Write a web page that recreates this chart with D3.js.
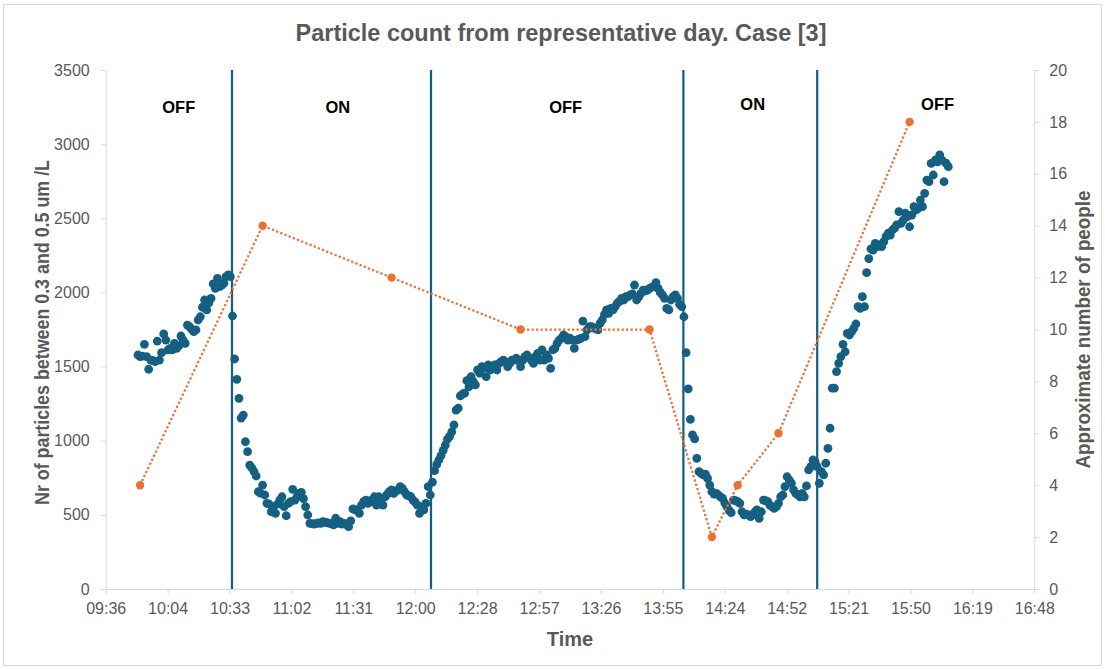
<!DOCTYPE html>
<html><head><meta charset="utf-8">
<script src="https://cdn.jsdelivr.net/npm/d3@7"></script>
<style>body{margin:0;background:#fff}svg{display:block}</style>
</head><body>
<svg id="chart" width="1105" height="669"></svg>
<script>
// ---------------- data ----------------
const xTickLabels = ["09:36","10:04","10:33","11:02","11:31","12:00","12:28","12:57","13:26","13:55","14:24","14:52","15:21","15:50","16:19","16:48"];
const leftTicks = [0,500,1000,1500,2000,2500,3000,3500];
const rightTicks = [0,2,4,6,8,10,12,14,16,18,20];

const particleTimes = [
"09:51","09:52","09:53","09:54","09:55","09:56","09:57","09:58","09:59",
"10:00","10:01","10:02","10:03","10:04","10:05","10:06","10:07","10:08","10:09",
"10:10","10:11","10:12","10:13","10:14","10:15","10:16","10:17","10:18","10:19",
"10:20","10:21","10:22","10:23","10:24","10:25","10:26","10:27","10:28","10:29",
"10:30","10:31","10:32","10:33","10:34","10:35","10:36","10:37","10:38","10:39",
"10:40","10:41","10:42","10:43","10:44","10:45","10:46","10:47","10:48","10:49",
"10:50","10:51","10:52","10:53","10:54","10:55","10:56","10:57","10:58","10:59",
"11:00","11:01","11:02","11:03","11:04","11:05","11:06","11:07","11:08","11:09",
"11:10","11:11","11:12","11:13","11:14","11:15","11:16","11:17","11:18","11:19",
"11:20","11:21","11:22","11:23","11:24","11:25","11:26","11:27","11:28","11:29",
"11:30","11:31","11:32","11:33","11:34","11:35","11:36","11:37","11:38","11:39",
"11:40","11:41","11:42","11:43","11:44","11:45","11:46","11:47","11:48","11:49",
"11:50","11:51","11:52","11:53","11:54","11:55","11:56","11:57","11:58","11:59",
"12:00","12:01","12:02","12:03","12:04","12:05","12:06","12:07","12:08","12:09",
"12:10","12:11","12:12","12:13","12:14","12:15","12:16","12:17","12:18","12:19",
"12:20","12:21","12:22","12:23","12:24","12:25","12:26","12:27","12:28","12:29",
"12:30","12:31","12:32","12:33","12:34","12:35","12:36","12:37","12:38","12:39",
"12:40","12:41","12:42","12:43","12:44","12:45","12:46","12:47","12:48","12:49",
"12:50","12:51","12:52","12:53","12:54","12:55","12:56","12:57","12:58","12:59",
"13:00","13:01","13:02","13:03","13:04","13:05","13:06","13:07","13:08","13:09",
"13:10","13:11","13:12","13:13","13:14","13:15","13:16","13:17","13:18","13:19",
"13:20","13:21","13:22","13:23","13:24","13:25","13:26","13:27","13:28","13:29",
"13:30","13:31","13:32","13:33","13:34","13:35","13:36","13:37","13:38","13:39",
"13:40","13:41","13:42","13:43","13:44","13:45","13:46","13:47","13:48","13:49",
"13:50","13:51","13:52","13:53","13:54","13:55","13:56","13:57","13:58","13:59",
"14:00","14:01","14:02","14:03","14:04","14:05","14:06","14:07","14:08","14:09",
"14:10","14:11","14:12","14:13","14:14","14:15","14:16","14:17","14:18","14:19",
"14:20","14:21","14:22","14:23","14:24","14:25","14:26","14:27","14:28","14:29",
"14:30","14:31","14:32","14:33","14:34","14:35","14:36","14:37","14:38","14:39",
"14:40","14:41","14:42","14:43","14:44","14:45","14:46","14:47","14:48","14:49",
"14:50","14:51","14:52","14:53","14:54","14:55","14:56","14:57","14:58","14:59",
"15:00","15:01","15:02","15:03","15:04","15:05","15:06","15:07","15:08","15:09",
"15:10","15:11","15:12","15:13","15:14","15:15","15:16","15:17","15:18","15:19",
"15:20","15:21","15:22","15:23","15:24","15:25","15:26","15:27","15:28","15:29",
"15:30","15:31","15:32","15:33","15:34","15:35","15:36","15:37","15:38","15:39",
"15:40","15:41","15:42","15:43","15:44","15:45","15:46","15:47","15:48","15:49",
"15:50","15:51","15:52","15:53","15:54","15:55","15:56","15:57","15:58","15:59",
"16:00","16:01","16:02","16:03","16:04","16:05","16:06","16:07","16:08"
];
const particleCounts = [
1578,1567,1571,1650,1567,1482,1544,1540,1533,
1672,1544,1594,1720,1679,1612,1623,1612,1657,1623,
1640,1706,1679,1657,1780,1769,1750,1735,1747,1814,
1836,1900,1949,1882,1930,1960,2057,2028,2095,2039,
2050,2062,2106,2118,2106,1841,1551,1414,1286,1153,
1173,993,926,836,816,791,762,656,647,701,
634,578,573,521,555,510,573,600,622,555,
494,578,589,672,600,622,645,652,610,555,
499,443,440,438,443,445,443,454,450,447,
443,440,432,477,443,454,438,443,435,420,
460,540,533,533,510,566,589,600,578,595,
589,622,566,622,611,566,622,640,656,668,
645,660,668,690,679,656,634,628,622,600,
585,566,510,555,533,578,690,634,720,798,
840,870,900,935,971,1010,1030,1060,1106,1207,
1219,1302,1315,1320,1405,1364,1432,1398,1376,1477,
1455,1499,1490,1432,1511,1477,1499,1511,1477,1522,
1533,1544,1530,1499,1522,1544,1544,1556,1540,1499,
1544,1567,1578,1560,1544,1522,1567,1589,1544,1612,
1544,1578,1556,1488,1612,1623,1657,1679,1691,1713,
1702,1679,1691,1679,1623,1679,1684,1690,1807,1702,
1747,1769,1769,1760,1758,1747,1792,1814,1850,1882,
1859,1893,1882,1904,1927,1940,1960,1949,1971,1971,
1983,1990,2050,1949,1970,1994,2016,2010,2016,2028,
2035,2039,2066,2028,2000,1983,1960,1893,1882,1949,
1971,1983,1960,1920,1904,1836,1594,1349,1144,1039,
1012,881,791,780,769,775,746,701,656,640,
645,634,622,611,580,555,530,515,600,595,
589,578,521,499,505,499,488,499,521,533,
477,521,600,595,589,566,555,544,555,578,
622,634,690,757,735,713,668,645,634,622,
645,622,695,803,825,870,859,825,713,791,
769,848,949,1084,1354,1354,1466,1522,1567,1650,
1600,1724,1713,1735,1758,1787,1904,1893,1971,1904,
2133,2228,2293,2286,2331,2309,2320,2309,2342,2376,
2399,2387,2421,2433,2455,2545,2466,2488,2534,2511,
2443,2522,2578,2556,2567,2623,2578,2668,2758,2747,
2870,2792,2893,2880,2927,2893,2747,2871,2848
];

const peopleTimes = ["09:52","10:49","11:49","12:49","13:49","14:18","14:30","14:49","15:50"];
const peopleCounts = [4,14,12,10,10,2,4,6,18];

const switchTimes = ["10:34:45","12:07:20","14:04:45","15:07:00"];
const phaseLabels = ["OFF","ON","OFF","ON","OFF"];
const phaseLabelTimes = ["10:10","11:24","13:10","14:37","16:03"];
const phaseLabelLevels = [3253,3253,3253,3271,3272];

const titleText = "Particle count from representative day. Case [3]";
const xTitle = "Time";
const yLeftTitle = "Nr of particles between 0.3 and 0.5 um /L";
const yRightTitle = "Approximate number of people";

// ---------------- chart ----------------
const W = 1105, H = 669;
const M = {left: 105.7, right: 70.7, top: 70, bottom: 80};
const toMin = s => { const p = s.split(":").map(Number); return p[0]*60 + p[1] + (p[2]||0)/60; };

const t0 = toMin(xTickLabels[0]), t1 = toMin(xTickLabels[xTickLabels.length-1]);
const x = d3.scaleLinear().domain([t0, t1]).range([M.left, W - M.right]);
const yL = d3.scaleLinear().domain([0, 3500]).range([H - M.bottom, M.top]);
const yR = d3.scaleLinear().domain([0, 20]).range([H - M.bottom, M.top]);

const BLUE = "#156082", ORANGE = "#E97132", AXIS = "#D9D9D9", TXT = "#595959";
const narrow = "'Liberation Sans Narrow','Liberation Sans',Arial,sans-serif";
const svg = d3.select("#chart");

svg.append("rect").attr("x",3.5).attr("y",4.5).attr("width",W-7).attr("height",H-8)
  .attr("fill","#fff").attr("stroke",AXIS).attr("stroke-width",1);

// axes
const xTickVals = xTickLabels.map((_, i) => t0 + i*(t1 - t0)/(xTickLabels.length - 1));
const styleAxis = g => {
  g.select(".domain").attr("stroke", AXIS).attr("stroke-width", 1);
  g.selectAll(".tick line").attr("stroke", AXIS);
  g.selectAll(".tick text").attr("fill", TXT).attr("font-family", narrow).attr("font-size", 16);
};
svg.append("g").attr("transform", `translate(0,${H - M.bottom})`)
  .call(d3.axisBottom(x).tickValues(xTickVals).tickFormat((d,i) => xTickLabels[i]).tickSize(5).tickSizeOuter(0).tickPadding(9))
  .call(styleAxis);
svg.append("g").attr("transform", `translate(${M.left},0)`)
  .call(d3.axisLeft(yL).tickValues(leftTicks).tickFormat(d3.format("d")).tickSize(5).tickSizeOuter(0).tickPadding(11))
  .call(styleAxis);
svg.append("g").attr("transform", `translate(${W - M.right},0)`)
  .call(d3.axisRight(yR).tickValues(rightTicks).tickFormat(d3.format("d")).tickSize(5).tickSizeOuter(0).tickPadding(10))
  .call(styleAxis);

// switch lines
svg.append("g").selectAll("line").data(switchTimes).join("line")
  .attr("x1", d => x(toMin(d))).attr("x2", d => x(toMin(d)))
  .attr("y1", yL(3500)).attr("y2", yL(0))
  .attr("stroke", BLUE).attr("stroke-width", 2.25);

// particle scatter
const particles = particleTimes.map((t, i) => ({t: toMin(t), v: particleCounts[i]}));
svg.append("g").selectAll("circle").data(particles).join("circle")
  .attr("cx", d => x(d.t)).attr("cy", d => yL(d.v)).attr("r", 4.4)
  .attr("fill", BLUE);

// people line
const people = peopleTimes.map((t, i) => ({t: toMin(t), v: peopleCounts[i]}));
svg.append("path").datum(people)
  .attr("d", d3.line().x(d => x(d.t)).y(d => yR(d.v)))
  .attr("fill", "none").attr("stroke", ORANGE).attr("stroke-width", 2.25)
  .attr("stroke-dasharray", "2.25 2.25");
svg.append("g").selectAll("circle").data(people).join("circle")
  .attr("cx", d => x(d.t)).attr("cy", d => yR(d.v)).attr("r", 4.2)
  .attr("fill", ORANGE);

// phase labels
svg.append("g").selectAll("text").data(phaseLabels).join("text")
  .attr("x", (d,i) => x(toMin(phaseLabelTimes[i]))).attr("y", (d,i) => yL(phaseLabelLevels[i]))
  .attr("dy", "0.36em").attr("text-anchor", "middle")
  .attr("font-family", "'Liberation Sans',Arial,sans-serif").attr("font-weight", "bold")
  .attr("font-size", 16.5).attr("fill", "#000").text(d => d);

// titles
svg.append("text").attr("x", 561).attr("y", 41).attr("text-anchor", "middle")
  .attr("font-family", narrow).attr("font-weight", "bold")
  .attr("font-size", 24).attr("fill", TXT)
  .attr("textLength", 531).attr("lengthAdjust", "spacingAndGlyphs").text(titleText);
svg.append("text").attr("x", (M.left + W - M.right)/2).attr("y", 646).attr("text-anchor", "middle")
  .attr("font-family", narrow).attr("font-weight", "bold")
  .attr("font-size", 20).attr("fill", TXT).text(xTitle);
const cy = (M.top + H - M.bottom)/2;
svg.append("text").attr("transform", `translate(49,${cy + 3}) rotate(-90)`).attr("text-anchor", "middle")
  .attr("font-family", narrow).attr("font-weight", "bold")
  .attr("font-size", 20).attr("fill", TXT)
  .attr("textLength", 345).attr("lengthAdjust", "spacingAndGlyphs").text(yLeftTitle);
svg.append("text").attr("transform", `translate(1090,${cy}) rotate(-90)`).attr("text-anchor", "middle")
  .attr("font-family", narrow).attr("font-weight", "bold")
  .attr("font-size", 20).attr("fill", TXT)
  .attr("textLength", 278).attr("lengthAdjust", "spacingAndGlyphs").text(yRightTitle);
</script>
</body></html>
